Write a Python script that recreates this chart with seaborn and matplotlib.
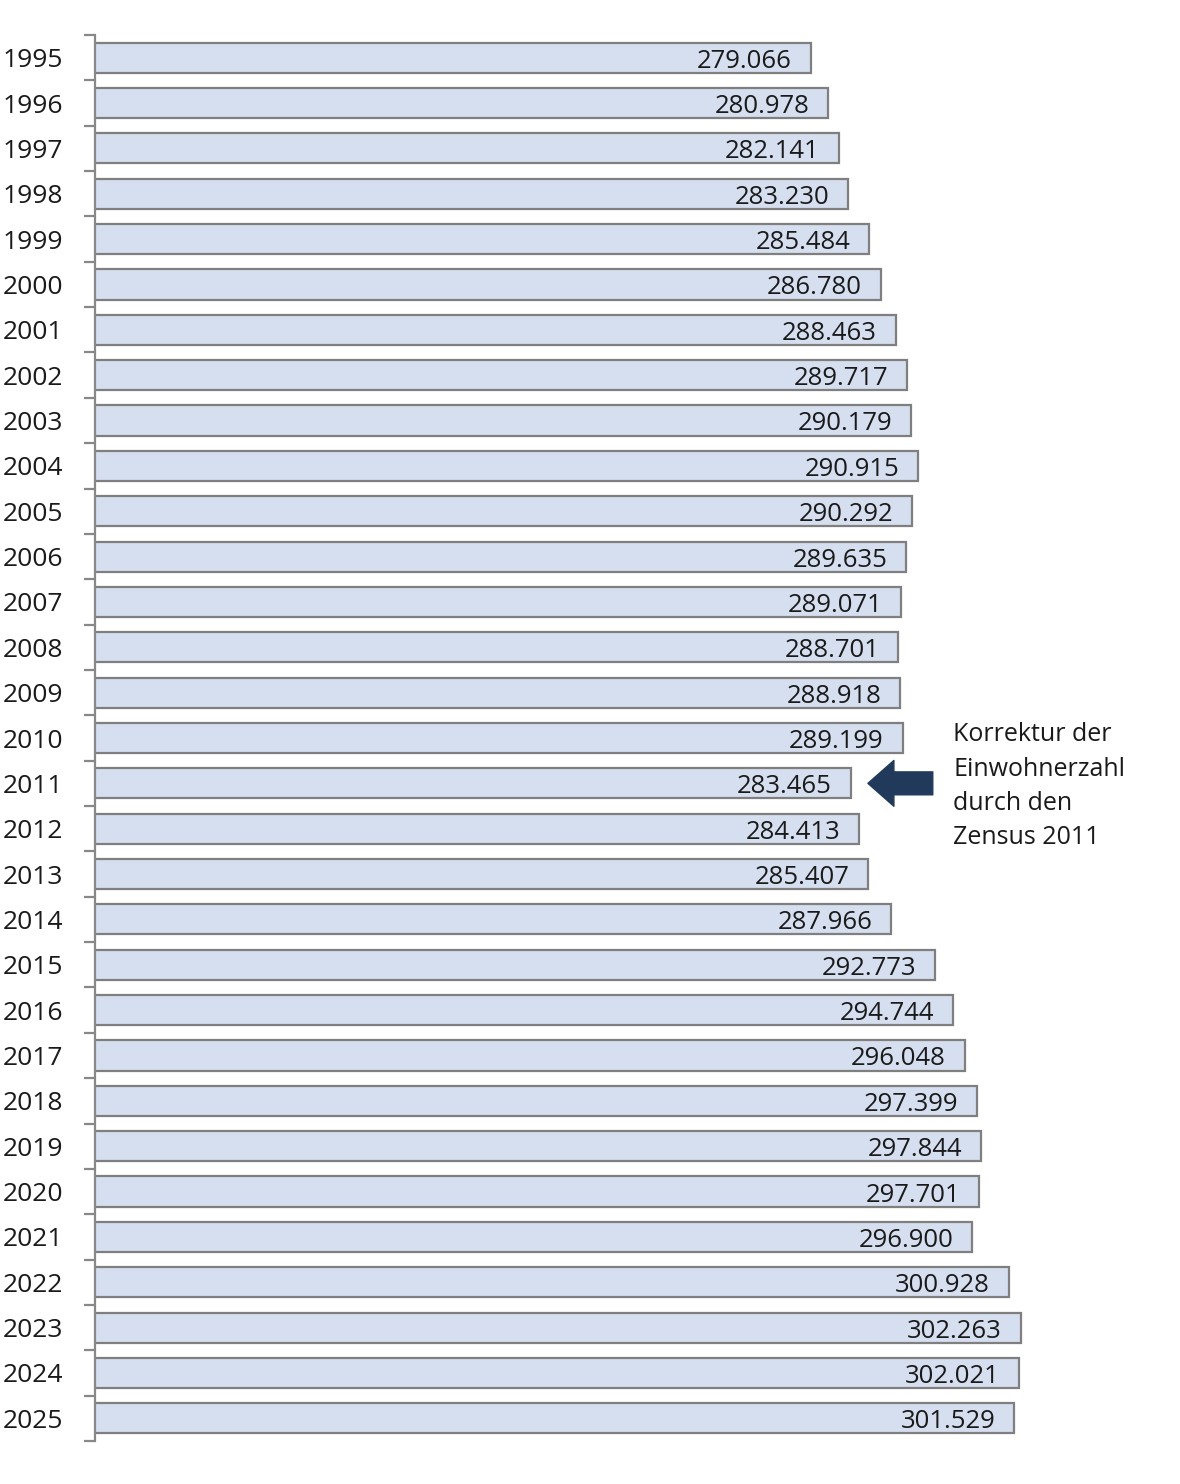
import matplotlib
matplotlib.use("Agg")
import matplotlib.pyplot as plt
import seaborn as sns
import pandas as pd
import numpy as np

# Einwohnerzahl je Jahr
years = [str(y) for y in range(1995, 2026)]
population = [
    279066, 280978, 282141, 283230, 285484, 286780, 288463, 289717, 290179,
    290915, 290292, 289635, 289071, 288701, 288918, 289199, 283465, 284413,
    285407, 287966, 292773, 294744, 296048, 297399, 297844, 297701, 296900,
    300928, 302263, 302021, 301529,
]
note_year = "2011"
note_text = "Korrektur der\nEinwohnerzahl\ndurch den\nZensus 2011"

df = pd.DataFrame({"year": years, "population": population})

sns.set_style("white")
plt.rcParams["font.family"] = ["Open Sans", "DejaVu Sans"]

W, H = 1180, 1484
fig = plt.figure(figsize=(W / 100, H / 100), dpi=100)
ax = fig.add_axes([95 / W, 43 / H, (1176 - 95) / W, (1441 - 35) / H])

sns.barplot(data=df, x="population", y="year", orient="h", ax=ax,
            color="#d6dfef", saturation=1, edgecolor="#7f7f7f",
            linewidth=1.6, width=0.665)

ax.set_xlim(200000, 200000 + (1176 - 95) / 0.009053)
ax.set_ylim(len(years) - 0.5, -0.5)

# value labels inside bar ends
for i, v in enumerate(population):
    label = f"{v:,}".replace(",", ".")
    ax.annotate(label, xy=(v, i), xytext=(-13.5, -2.5), textcoords="offset points",
                ha="right", va="center", fontsize=18.5, color="#1a1a1a")

# axis styling
for s in ["top", "right", "bottom"]:
    ax.spines[s].set_visible(False)
ax.spines["left"].set_color("#888888")
ax.spines["left"].set_linewidth(1.6)
ax.set_xticks([])
ax.set_xlabel("")
ax.set_ylabel("")
ax.set_yticks(np.arange(-0.5, len(years)), minor=True)
ax.tick_params(axis="y", which="minor", length=8, width=1.6, color="#888888", left=True)
ax.tick_params(axis="y", which="major", length=0, pad=23, labelsize=19, labelcolor="#1a1a1a")

# Zensus annotation
i11 = years.index(note_year)
ax.annotate("", xy=(0.715, 1 - (i11 + 0.5) / len(years)), xycoords="axes fraction",
            xytext=(0.775, 1 - (i11 + 0.5) / len(years)),
            arrowprops=dict(arrowstyle="simple,head_length=0.85,head_width=1.5,tail_width=0.75",
                            color="#213a5c", mutation_scale=22, shrinkA=0, shrinkB=0))
fig.text(953 / W, 1 - 722 / H, note_text, ha="left", va="top", fontsize=18,
         color="#1a1a1a", linespacing=1.5)

fig.savefig("out.png", dpi=100)
